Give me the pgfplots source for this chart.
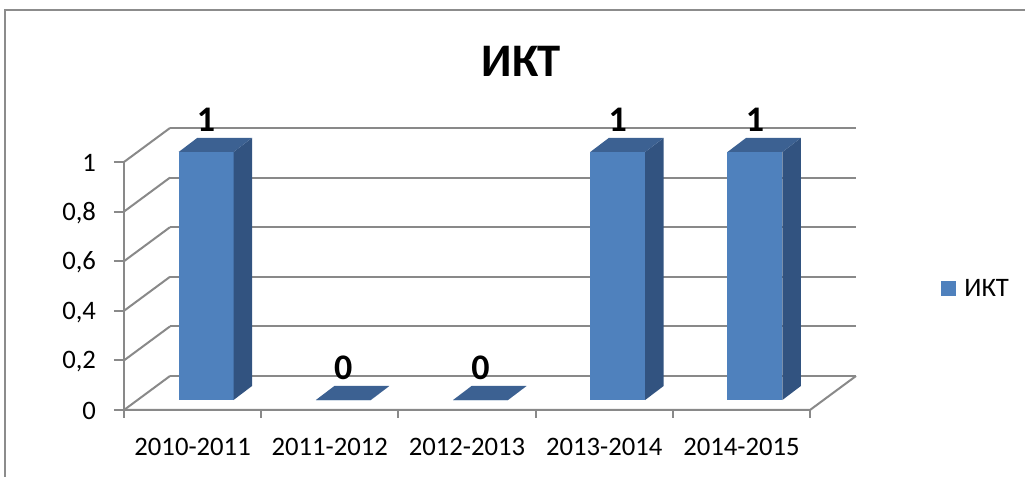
\documentclass[border=0pt]{standalone}
\usepackage{pgfplots}
\usepackage{pgfplotstable}
\pgfplotsset{compat=1.18}
\usepackage{fontspec}
\setmainfont{Carlito}
\definecolor{barfront}{RGB}{79,129,189}
\definecolor{barside}{RGB}{50,83,128}
\definecolor{bartop}{RGB}{60,97,146}
\definecolor{gridgray}{RGB}{137,137,137}
\definecolor{framegray}{RGB}{140,140,140}
\pgfplotstableread{
x v
0 1
1 0
2 0
3 1
4 1
}\datatable
\begin{document}
\begin{tikzpicture}
\path[use as bounding box, fill=white] (0,0) rectangle (768.75pt,357.75pt);
\draw[framegray, line width=1.5pt] (3.75pt,0) -- (3.75pt,350.6pt) -- (768.75pt,350.6pt);
\node[font=\bfseries\fontsize{35}{40}\selectfont, inner sep=0pt] at (391pt,312pt) {ИКТ};
\begin{axis}[
  at={(93pt,50.25pt)}, anchor=south west,
  x=102.9pt, y=186pt,
  xmin=-0.5, xmax=4.84, ymin=0, ymax=1.14,
  clip=false,
  axis x line*=bottom, axis y line*=left,
  axis line style={draw=none},
  /pgf/number format/assume math mode=true,
  /pgf/number format/use comma,
  ytick={0,0.2,0.4,0.6,0.8,1},
  xtick={0,1,2,3,4},
  xticklabels={2010-2011,2011-2012,2012-2013,2013-2014,2014-2015},
  minor xtick={-0.5,0.5,1.5,2.5,3.5,4.5},
  tick align=outside,
  major tick length=7.5pt,
  minor tick length=6pt,
  major x tick style={draw=none},
  minor x tick style={draw=gridgray, line width=1.5pt},
  y tick style={draw=gridgray, line width=1.5pt},
  ticklabel style={font=\fontsize{20}{24}\selectfont, text=black},
  yticklabel style={xshift=-10pt, yshift=-1pt},
  xticklabel style={yshift=-10pt},
  legend style={at={(axis cs:5.45,0.49)}, anchor=west, draw=none, fill=none,
    font=\fontsize{20}{24}\selectfont, inner sep=0pt},
  legend image code/.code={\fill[barfront] (0pt,-5.25pt) rectangle (10.5pt,5.25pt); \path (15.5pt,0);},
  gl/.style={draw=gridgray, line width=1.5pt, mark=none, forget plot},
]
% back wall gridlines
\addplot[gl] coordinates {(-0.1647,0.1371) (4.8353,0.1371)};
\addplot[gl] coordinates {(-0.1647,0.3371) (4.8353,0.3371)};
\addplot[gl] coordinates {(-0.1647,0.5371) (4.8353,0.5371)};
\addplot[gl] coordinates {(-0.1647,0.7371) (4.8353,0.7371)};
\addplot[gl] coordinates {(-0.1647,0.9371) (4.8353,0.9371)};
\addplot[gl] coordinates {(-0.1647,1.1371) (4.8353,1.1371)};
% left wall diagonals
\addplot[gl] coordinates {(-0.5,0) (-0.1647,0.1371)};
\addplot[gl] coordinates {(-0.5,0.2) (-0.1647,0.3371)};
\addplot[gl] coordinates {(-0.5,0.4) (-0.1647,0.5371)};
\addplot[gl] coordinates {(-0.5,0.6) (-0.1647,0.7371)};
\addplot[gl] coordinates {(-0.5,0.8) (-0.1647,0.9371)};
\addplot[gl] coordinates {(-0.5,1) (-0.1647,1.1371)};
% floor edges and y axis
\addplot[gl] coordinates {(-0.5,0) (4.5,0) (4.8353,0.1371)};
\addplot[gl] coordinates {(-0.5,0) (-0.5,1)};
% bars
\pgfplotsforeachungrouped \i in {0,...,4}{%
  \pgfplotstablegetelem{\i}{v}\of\datatable
  \let\v=\pgfplotsretval
  \pgfmathsetmacro\xl{\i-0.2+0.0984}%
  \pgfmathsetmacro\xr{\i+0.2+0.0984}%
  \pgfmathsetmacro\xrb{\i+0.2+0.2332}%
  \pgfmathsetmacro\xlb{\i-0.2+0.2332}%
  \pgfmathsetmacro\yb{0.0403}%
  \pgfmathsetmacro\yt{\v+0.0403}%
  \pgfmathsetmacro\ybb{0.0968}%
  \pgfmathsetmacro\ytb{\v+0.0968}%
  \addplot[fill=barfront, draw=none, forget plot] coordinates {(\xl,\yb) (\xr,\yb) (\xr,\yt) (\xl,\yt)};
  \addplot[fill=barside, draw=none, forget plot] coordinates {(\xr,\yb) (\xrb,\ybb) (\xrb,\ytb) (\xr,\yt)};
  \addplot[fill=bartop, draw=none, forget plot] coordinates {(\xl,\yt) (\xr,\yt) (\xrb,\ytb) (\xlb,\ytb)};
}
% data labels
\addplot[draw=none, mark=none, forget plot, point meta=explicit,
  nodes near coords,
  every node near coord/.style={anchor=base, yshift=15.5pt, text=black,
    font=\bfseries\fontsize{27}{30}\selectfont}]
  table[x expr=\thisrow{x}+0.0984, y expr=\thisrow{v}+0.0403, meta=v] {\datatable};
\addlegendimage{barfront}
\addlegendentry{ИКТ}
\end{axis}
\end{tikzpicture}
\end{document}
